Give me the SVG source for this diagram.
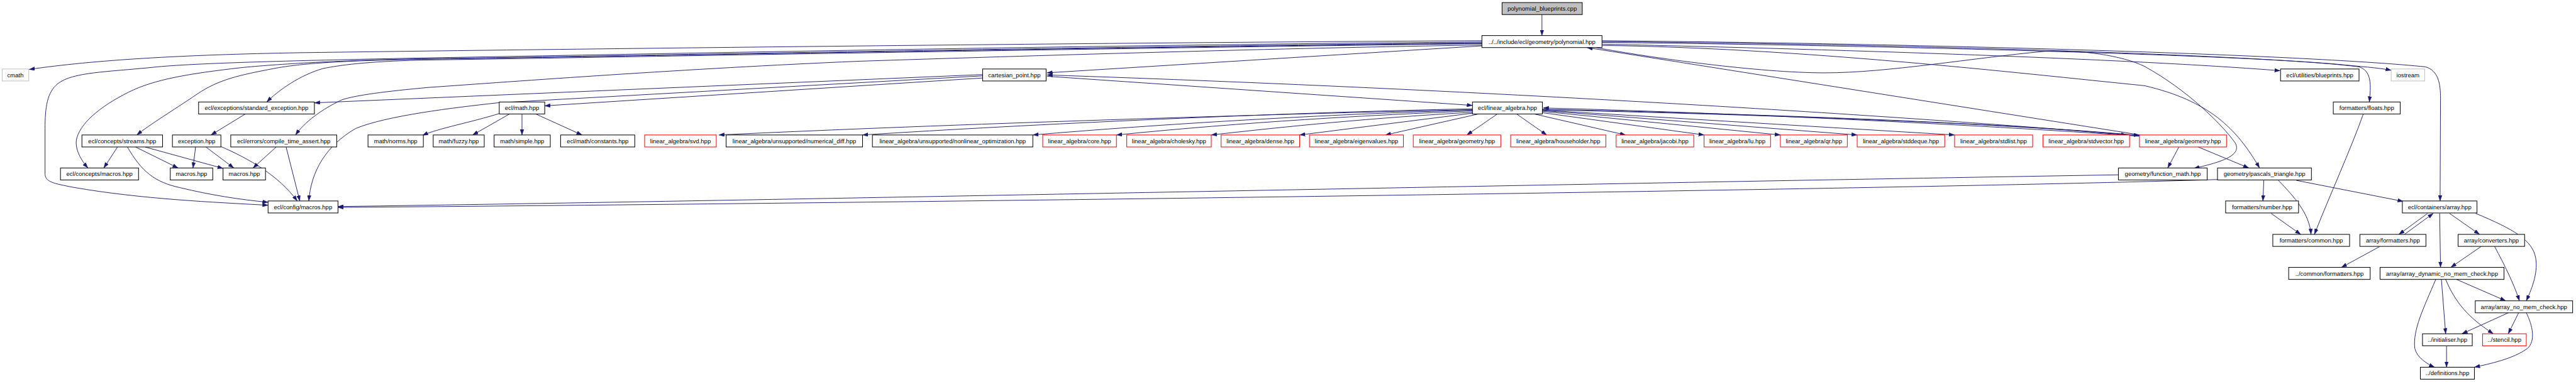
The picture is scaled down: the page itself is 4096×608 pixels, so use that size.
<svg xmlns="http://www.w3.org/2000/svg" width="4096" height="608" viewBox="0 0 4096 608">
<style>
.node rect{fill:#fff;stroke:#000;stroke-width:1.5}
.node.red rect{stroke:#ff0000}
.node.gray rect{stroke:#bfbfbf}
.node.root rect{fill:#bfbfbf}
.node text{font-family:"Liberation Sans",Arial,sans-serif;font-size:14px;text-anchor:middle;fill:#000}
#edges path{fill:none;stroke:#191970;stroke-width:1.4;marker-end:url(#arr)}
</style>
<defs>
<marker id="arr" viewBox="0 0 13 9" refX="13" refY="4.5" markerWidth="13" markerHeight="9" markerUnits="userSpaceOnUse" orient="auto">
<path d="M0,0 L13,4.5 L0,9 z" fill="#191970" stroke="#191970" stroke-width="0.5"/>
</marker>
</defs>
<rect width="4096" height="608" fill="#fff"/>
<g transform="scale(0.682)">
<g id="edges">
<path d="M3595,34 L3595,83"/>
<path d="M3455,95 C2600,99 1200,116 700,123 C420,128 220,140 68,162"/>
<path d="M3455,98 C2600,104 1300,130 1000,135 C700,141 450,147 357,157 C250,168 170,168 135,195 C110,215 105,250 105,300 L105,405 C105,425 125,428 170,437 C330,465 500,472 625,479"/>
<path d="M3455,100 C2600,108 1300,133 1000,137 C800,140 640,150 561,158 C440,172 360,185 300,215 C230,250 185,290 178,327 C175,350 190,375 205,392"/>
<path d="M3455,101 C2600,110 1300,134 1000,138 C800,141 700,148 638,160 C560,175 510,185 459,220 C400,260 350,290 319,315"/>
<path d="M3455,102 C2600,112 1300,136 1000,140 C880,142 800,150 753,160 C700,175 650,210 622,238"/>
<path d="M3455,105 C3000,112 2400,130 2000,143 C1600,160 1200,190 1000,204 C900,213 830,222 797,233 C750,255 710,285 689,315"/>
<path d="M3455,107 L2441,170"/>
<path d="M2441,178 L3433,246"/>
<path d="M2291,174 L733,240"/>
<path d="M2291,177 L1160,240 C1060,251 900,270 829,300 C760,340 725,400 720,469"/>
<path d="M2291,182 L1270,247"/>
<path d="M1164,265 C1100,285 1020,300 985,316"/>
<path d="M1188,266 L1102,315"/>
<path d="M1217,266 L1217,315"/>
<path d="M1249,266 L1357,315"/>
<path d="M572,266 L492,315"/>
<path d="M274,343 L242,392"/>
<path d="M316,343 L415,392"/>
<path d="M338,343 L520,393"/>
<path d="M297,343 C330,400 360,425 420,438 C490,455 560,466 625,472"/>
<path d="M456,343 L450,392"/>
<path d="M480,343 L545,392"/>
<path d="M515,342 C580,370 650,410 693,469"/>
<path d="M644,343 L590,392"/>
<path d="M667,343 L699,469"/>
<path d="M3433,256 C3000,265 2200,290 1676,315"/>
<path d="M3433,254 C3000,262 2400,290 2011,315"/>
<path d="M3433,257 C3100,266 2700,290 2408,315"/>
<path d="M3433,259 C3200,268 2900,285 2603,315"/>
<path d="M3433,262 C3200,275 3000,295 2824,315"/>
<path d="M3434,264 L3030,315"/>
<path d="M3447,266 L3230,315"/>
<path d="M3491,266 L3420,315"/>
<path d="M3536,266 L3606,315"/>
<path d="M3577,266 L3790,315"/>
<path d="M3596,263 L3973,315"/>
<path d="M3596,260 L4151,315"/>
<path d="M3596,258 L4330,315"/>
<path d="M3596,257 L4557,315"/>
<path d="M3596,256 C4200,270 4700,290 4958,315"/>
<path d="M3596,255 C4200,268 4700,290 4988,316"/>
<path d="M4988,318 C4600,290 4000,262 3598,252"/>
<path d="M4988,317 C4500,275 3500,210 2441,175"/>
<path d="M4990,315 L3700,111"/>
<path d="M5080,343 L5054,392"/>
<path d="M5125,343 L5243,392"/>
<path d="M3721,111 C3850,135 4100,170 4255,170 C4400,170 4600,135 4765,120 C4850,115 4950,130 5000,155 C5100,210 5180,290 5211,333 C5230,365 5170,380 5115,393"/>
<path d="M3735,106 C4200,112 4700,170 5000,200 C5150,235 5215,300 5268,392"/>
<path d="M3735,103 C4400,118 5000,140 5316,165"/>
<path d="M3735,99 C4400,106 5200,128 5450,150 C5500,155 5545,158 5575,164"/>
<path d="M3735,97 C4500,104 5300,130 5500,156 C5530,165 5528,200 5524,238"/>
<path d="M3735,95 C4600,103 5400,130 5655,156 C5685,165 5690,195 5690,230 L5689,469"/>
<path d="M4939,408 C3600,430 1800,468 788,482"/>
<path d="M5170,419 C4400,443 2000,475 788,484"/>
<path d="M5510,266 C5480,350 5430,460 5396,547"/>
<path d="M5278,421 L5276,469"/>
<path d="M5312,421 C5350,460 5385,500 5388,547"/>
<path d="M5354,421 L5603,470"/>
<path d="M5295,498 L5364,547"/>
<path d="M5660,498 L5593,547"/>
<path d="M5606,547 L5673,498"/>
<path d="M5711,498 L5781,547"/>
<path d="M5688,498 L5690,624"/>
<path d="M5772,498 C5860,535 5905,560 5912,603 C5918,640 5900,680 5890,702"/>
<path d="M5549,575 L5459,624"/>
<path d="M5785,575 L5714,624"/>
<path d="M5816,575 C5840,620 5860,660 5874,702"/>
<path d="M5727,652 L5842,702"/>
<path d="M5692,652 L5702,779"/>
<path d="M5702,652 C5730,720 5770,750 5813,779"/>
<path d="M5679,652 C5650,720 5625,770 5630,813 C5635,835 5660,850 5676,857"/>
<path d="M5848,730 L5740,779"/>
<path d="M5872,730 L5848,779"/>
<path d="M5890,730 C5905,760 5912,795 5893,813 C5860,838 5800,850 5769,857"/>
<path d="M5704,807 L5704,857"/>
</g>
<g id="nodes">
<g id="n_root" class="node root"><rect x="3502" y="6" width="187" height="28"/><text x="3595.5" y="25">polynomial_blueprints.cpp</text></g>
<g id="n_poly" class="node"><rect x="3455" y="83" width="280" height="28"/><text x="3595" y="102">../../include/ecl/geometry/polynomial.hpp</text></g>
<g id="n_cmath" class="node gray"><rect x="5" y="161" width="62" height="28"/><text x="36" y="180">cmath</text></g>
<g id="n_cart" class="node"><rect x="2291" y="161" width="148" height="28"/><text x="2365" y="180">cartesian_point.hpp</text></g>
<g id="n_blue" class="node"><rect x="5317" y="161" width="183" height="28"/><text x="5408.5" y="180">ecl/utilities/blueprints.hpp</text></g>
<g id="n_ios" class="node gray"><rect x="5575" y="161" width="78" height="28"/><text x="5614" y="180">iostream</text></g>
<g id="n_stdexc" class="node"><rect x="463" y="238" width="270" height="28"/><text x="598" y="257">ecl/exceptions/standard_exception.hpp</text></g>
<g id="n_math" class="node"><rect x="1164" y="238" width="106" height="28"/><text x="1217" y="257">ecl/math.hpp</text></g>
<g id="n_la" class="node"><rect x="3433" y="238" width="163" height="28"/><text x="3514.5" y="257">ecl/linear_algebra.hpp</text></g>
<g id="n_floats" class="node"><rect x="5440" y="238" width="156" height="28"/><text x="5518" y="257">formatters/floats.hpp</text></g>
<g id="n_streams" class="node"><rect x="191" y="315" width="188" height="28"/><text x="285" y="334">ecl/concepts/streams.hpp</text></g>
<g id="n_exc" class="node"><rect x="402" y="315" width="113" height="28"/><text x="458.5" y="334">exception.hpp</text></g>
<g id="n_cta" class="node"><rect x="538" y="315" width="247" height="28"/><text x="661.5" y="334">ecl/errors/compile_time_assert.hpp</text></g>
<g id="n_norms" class="node"><rect x="858" y="315" width="129" height="28"/><text x="922.5" y="334">math/norms.hpp</text></g>
<g id="n_fuzzy" class="node"><rect x="1010" y="315" width="119" height="28"/><text x="1069.5" y="334">math/fuzzy.hpp</text></g>
<g id="n_simple" class="node"><rect x="1152" y="315" width="131" height="28"/><text x="1217.5" y="334">math/simple.hpp</text></g>
<g id="n_const" class="node"><rect x="1307" y="315" width="173" height="28"/><text x="1393.5" y="334">ecl/math/constants.hpp</text></g>
<g id="n_svd" class="node red"><rect x="1503" y="315" width="167" height="28"/><text x="1586.5" y="334">linear_algebra/svd.hpp</text></g>
<g id="n_numdiff" class="node"><rect x="1693" y="315" width="318" height="28"/><text x="1852" y="334">linear_algebra/unsupported/numerical_diff.hpp</text></g>
<g id="n_nonlin" class="node"><rect x="2034" y="315" width="374" height="28"/><text x="2221" y="334">linear_algebra/unsupported/nonlinear_optimization.hpp</text></g>
<g id="n_core" class="node red"><rect x="2431" y="315" width="172" height="28"/><text x="2517" y="334">linear_algebra/core.hpp</text></g>
<g id="n_chol" class="node red"><rect x="2627" y="315" width="197" height="28"/><text x="2725.5" y="334">linear_algebra/cholesky.hpp</text></g>
<g id="n_dense" class="node red"><rect x="2847" y="315" width="183" height="28"/><text x="2938.5" y="334">linear_algebra/dense.hpp</text></g>
<g id="n_eig" class="node red"><rect x="3053" y="315" width="219" height="28"/><text x="3162.5" y="334">linear_algebra/eigenvalues.hpp</text></g>
<g id="n_geo" class="node red"><rect x="3295" y="315" width="204" height="28"/><text x="3397" y="334">linear_algebra/geometry.hpp</text></g>
<g id="n_house" class="node red"><rect x="3522" y="315" width="222" height="28"/><text x="3633" y="334">linear_algebra/householder.hpp</text></g>
<g id="n_jac" class="node red"><rect x="3768" y="315" width="181" height="28"/><text x="3858.5" y="334">linear_algebra/jacobi.hpp</text></g>
<g id="n_lu" class="node red"><rect x="3973" y="315" width="155" height="28"/><text x="4050.5" y="334">linear_algebra/lu.hpp</text></g>
<g id="n_qr" class="node red"><rect x="4151" y="315" width="156" height="28"/><text x="4229" y="334">linear_algebra/qr.hpp</text></g>
<g id="n_deque" class="node red"><rect x="4330" y="315" width="204" height="28"/><text x="4432" y="334">linear_algebra/stddeque.hpp</text></g>
<g id="n_list" class="node red"><rect x="4557" y="315" width="182" height="28"/><text x="4648" y="334">linear_algebra/stdlist.hpp</text></g>
<g id="n_vec" class="node red"><rect x="4763" y="315" width="202" height="28"/><text x="4864" y="334">linear_algebra/stdvector.hpp</text></g>
<g id="n_geo2" class="node red"><rect x="4988" y="315" width="203" height="28"/><text x="5089.5" y="334">linear_algebra/geometry.hpp</text></g>
<g id="n_cmacros" class="node"><rect x="141" y="392" width="182" height="28"/><text x="232" y="411">ecl/concepts/macros.hpp</text></g>
<g id="n_mac1" class="node"><rect x="397" y="392" width="99" height="28"/><text x="446.5" y="411">macros.hpp</text></g>
<g id="n_mac2" class="node"><rect x="520" y="392" width="99" height="28"/><text x="569.5" y="411">macros.hpp</text></g>
<g id="n_fmath" class="node"><rect x="4939" y="392" width="207" height="28"/><text x="5042.5" y="411">geometry/function_math.hpp</text></g>
<g id="n_pascal" class="node"><rect x="5170" y="392" width="219" height="28"/><text x="5279.5" y="411">geometry/pascals_triangle.hpp</text></g>
<g id="n_config" class="node"><rect x="625" y="469" width="163" height="28"/><text x="706.5" y="488">ecl/config/macros.hpp</text></g>
<g id="n_number" class="node"><rect x="5189" y="469" width="170" height="28"/><text x="5274" y="488">formatters/number.hpp</text></g>
<g id="n_array" class="node"><rect x="5601" y="469" width="174" height="28"/><text x="5688" y="488">ecl/containers/array.hpp</text></g>
<g id="n_common" class="node"><rect x="5299" y="547" width="179" height="28"/><text x="5388.5" y="566">formatters/common.hpp</text></g>
<g id="n_afmt" class="node"><rect x="5502" y="547" width="154" height="28"/><text x="5579" y="566">array/formatters.hpp</text></g>
<g id="n_conv" class="node"><rect x="5731" y="547" width="155" height="28"/><text x="5808.5" y="566">array/converters.hpp</text></g>
<g id="n_cfmt" class="node"><rect x="5336" y="624" width="190" height="28"/><text x="5431" y="643">../common/formatters.hpp</text></g>
<g id="n_dyn" class="node"><rect x="5549" y="624" width="289" height="28"/><text x="5693.5" y="643">array/array_dynamic_no_mem_check.hpp</text></g>
<g id="n_nmc" class="node"><rect x="5771" y="702" width="227" height="28"/><text x="5884.5" y="721">array/array_no_mem_check.hpp</text></g>
<g id="n_init" class="node"><rect x="5648" y="779" width="116" height="28"/><text x="5706" y="798">../initialiser.hpp</text></g>
<g id="n_stencil" class="node red"><rect x="5788" y="779" width="102" height="28"/><text x="5839" y="798">../stencil.hpp</text></g>
<g id="n_defs" class="node"><rect x="5643" y="857" width="126" height="28"/><text x="5706" y="876">../definitions.hpp</text></g>
</g>
</g>
</svg>
